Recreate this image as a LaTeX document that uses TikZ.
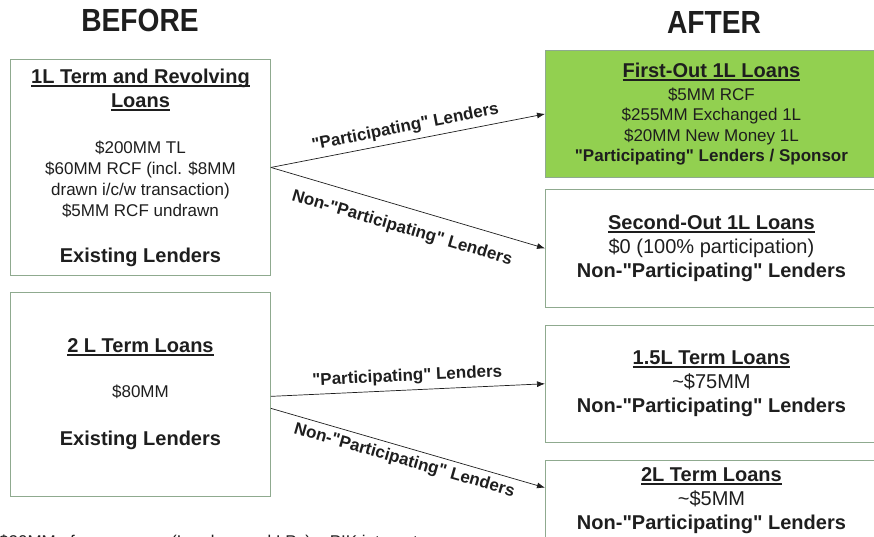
\documentclass[tikz,border=0pt]{standalone}
\usepackage{fontspec}
\setmainfont{Liberation Sans}
\usetikzlibrary{positioning,arrows.meta}
\definecolor{boxline}{RGB}{143,170,143}
\definecolor{firstgreen}{RGB}{146,208,80}
\definecolor{ink}{RGB}{30,30,30}
\newcommand{\ulbar}[1]{\setbox0\hbox{#1}\rlap{\rule[-3.5pt]{\wd0}{2pt}}\box0}
\newcommand{\dq}{\XeTeXglyph\XeTeXcharglyph"22\relax}
\newcommand{\hdsize}{\fontsize{20}{24}\selectfont\bfseries}
\newcommand{\txsize}{\fontsize{17}{21}\selectfont}

\begin{document}
\begin{tikzpicture}[x=1pt, y=1pt, text=ink,
  loanbox/.style={draw=boxline, line width=0.9pt, fill=white, align=center, inner sep=0pt},
  flow/.style={draw=ink, line width=0.7pt, -{Latex[length=8pt,width=6pt]}},
  lab/.style={font=\txsize\bfseries, sloped, inner sep=5pt}]
\useasboundingbox (0,0) rectangle (874,-536);

\node[font=\fontsize{32}{36}\selectfont\bfseries, xscale=0.88] (before) at (140,-20) {BEFORE};
\node[font=\fontsize{32}{36}\selectfont\bfseries, xscale=0.88] (after) at (714,-22) {AFTER};

% before
\node[loanbox, font=\txsize, minimum width=260pt, minimum height=216pt, anchor=north west] (tl1) at (10,-59) {{\hdsize\ulbar{1L Term and Revolving}}\\[3pt]{\hdsize\ulbar{Loans}}\\[25pt]\$200MM TL\\\$60MM RCF (incl. \$8MM\\drawn i/c/w transaction)\\\$5MM RCF undrawn\\[25pt]{\hdsize Existing Lenders}};
\node[loanbox, font=\txsize, minimum width=260pt, minimum height=204pt, below=16pt of tl1] (tl2) {{\hdsize\ulbar{2 L Term Loans}}\\[24pt]\$80MM\\[27pt]{\hdsize Existing Lenders}};

% after
\node[loanbox, fill=firstgreen, font=\fontsize{17}{20.5}\selectfont, minimum width=332pt, minimum height=127pt, anchor=north west] (first) at (545,-50) {{\hdsize\ulbar{First-Out 1L Loans}}\\[2.5pt]\$5MM RCF\\\$255MM Exchanged 1L\\\$20MM New Money 1L\\\textbf{\dq Participating\dq{} Lenders / Sponsor}};
\node[loanbox, font=\fontsize{20}{24}\selectfont, minimum width=332pt, minimum height=118pt, below=11pt of first] (second) {{\bfseries\ulbar{Second-Out 1L Loans}}\\\$0 (100\% participation)\\\textbf{Non-\dq Participating\dq{} Lenders}};
\node[loanbox, font=\fontsize{20}{24}\selectfont, minimum width=332pt, minimum height=117pt, below=17pt of second] (onefive) {{\bfseries\ulbar{1.5L Term Loans}}\\\textasciitilde\$75MM\\\textbf{Non-\dq Participating\dq{} Lenders}};
\node[loanbox, font=\fontsize{20}{24}\selectfont, minimum width=332pt, minimum height=81pt, below=17pt of onefive] (twol) {{\bfseries\ulbar{2L Term Loans}}\\\textasciitilde\$5MM\\\textbf{Non-\dq Participating\dq{} Lenders}};

\draw[flow] (tl1.east) -- node[lab, above] {\dq Participating\dq{} Lenders} (first.west);
\draw[flow] (tl1.east) -- node[lab, below=8pt] {Non-\dq Participating\dq{} Lenders} (second.west);
\draw[flow] ([yshift=-2pt]tl2.east) -- node[lab, above] {\dq Participating\dq{} Lenders} (onefive.west);
\draw[flow] ([yshift=-14pt]tl2.east) -- node[lab, below=0pt] {Non-\dq Participating\dq{} Lenders} ([yshift=-28pt]twol.north west);

\node[font=\txsize, anchor=base west, inner sep=0pt] (note) at (-1,-547) {\$20MM of new money (Lenders and LPs) \textendash{} PIK interest};
\end{tikzpicture}
\end{document}
